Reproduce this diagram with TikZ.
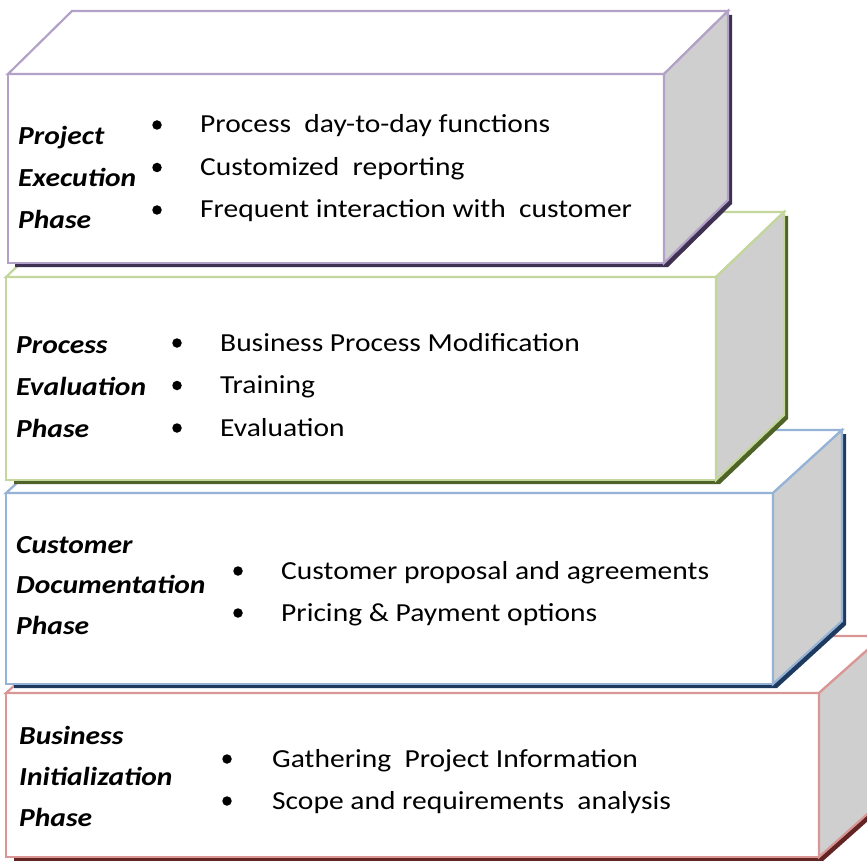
\documentclass[tikz,border=0pt]{standalone}
\usepackage{fontspec}
\setmainfont{Carlito}[FakeStretch=1.135]
\usetikzlibrary{positioning}

\definecolor{purpline}{HTML}{B3A2C7}
\definecolor{purpshade}{HTML}{3F3151}
\definecolor{greenline}{HTML}{C3D69B}
\definecolor{greenshade}{HTML}{4F6228}
\definecolor{blueline}{HTML}{95B3D7}
\definecolor{blueshade}{HTML}{1F3A5F}
\definecolor{redline}{HTML}{D99694}
\definecolor{redshade}{HTML}{632523}
\definecolor{sidegray}{HTML}{CFCFCF}

\tikzset{
  phase/.style={font=\fontsize{26}{26}\selectfont\bfseries\itshape, anchor=base west, inner sep=0pt},
  item/.style={font=\fontsize{26}{26}\selectfont, anchor=base west, inner sep=0pt},
  dot/.style={circle, fill=black, inner sep=0pt, minimum size=9.5pt},
  face/.style={fill=white, line width=2.2pt, line join=miter},
  sideface/.style={fill=sidegray, line width=2.2pt, line join=miter},
}

\begin{document}
\begin{tikzpicture}[x=1pt, y=-1pt]

\useasboundingbox (0,0) rectangle (867,861);
\clip (0,0) rectangle (867,861);

% Business Initialization box
\fill [redshade] (14,697) -- (74,640) -- (887,640) -- (887,804) -- (823,861) -- (14,861) -- cycle;
\draw [face, draw=redline] (6,693) rectangle (819,857);
\draw [face, draw=redline] (6,693) -- (70,636) -- (883,636) -- (819,693) -- cycle;
\draw [sideface, draw=redline] (819,693) -- (883,636) -- (883,800) -- (819,857) -- cycle;

% Customer Documentation box
\fill [blueshade] (14,497) -- (79,434) -- (846,434) -- (846,625) -- (777,688) -- (14,688) -- cycle;
\draw [face, draw=blueline] (6,493) rectangle (773,684);
\draw [face, draw=blueline] (6,493) -- (75,430) -- (842,430) -- (773,493) -- cycle;
\draw [sideface, draw=blueline] (773,493) -- (842,430) -- (842,621) -- (773,684) -- cycle;

% Process Evaluation box
\fill [greenshade] (14,281) -- (78,216) -- (788,216) -- (788,419) -- (720,484) -- (14,484) -- cycle;
\draw [face, draw=greenline] (6,277) rectangle (716,480);
\draw [face, draw=greenline] (6,277) -- (74,212) -- (784,212) -- (716,277) -- cycle;
\draw [sideface, draw=greenline] (716,277) -- (784,212) -- (784,415) -- (716,480) -- cycle;

% Project Execution box
\fill [purpshade] (15,78) -- (76,15) -- (732,15) -- (732,204) -- (668,267) -- (15,267) -- cycle;
\draw [face, draw=purpline] (8,74) rectangle (664,263);
\draw [face, draw=purpline] (8,74) -- (72,11) -- (728,11) -- (664,74) -- cycle;
\draw [sideface, draw=purpline] (664,74) -- (728,11) -- (728,200) -- (664,263) -- cycle;

% Project Execution text
\node [phase] (pe1) at (18,145) {Project};
\node [phase] (pe2) at ([yshift=-41.5]pe1.base west) {Execution};
\node [phase] (pe3) at ([yshift=-41.5]pe2.base west) {Phase};
\node [item] (pe-a) at (200,133) {Process\ \ day-to-day functions};
\node [item] (pe-b) at ([yshift=-42.5]pe-a.base west) {Customized\ \ reporting};
\node [item] (pe-c) at ([yshift=-42.5]pe-b.base west) {Frequent interaction with\ \ customer};
\node [dot] at ([xshift=-43, yshift=8]pe-a.base west) {};
\node [dot] at ([xshift=-43, yshift=8]pe-b.base west) {};
\node [dot] at ([xshift=-43, yshift=8]pe-c.base west) {};

% Process Evaluation text
\node [phase] (ev1) at (16,353) {Process};
\node [phase] (ev2) at ([yshift=-42]ev1.base west) {Evaluation};
\node [phase] (ev3) at ([yshift=-42]ev2.base west) {Phase};
\node [item] (ev-a) at (220,351) {Business Process Modification};
\node [item] (ev-b) at ([yshift=-42.5]ev-a.base west) {Training};
\node [item] (ev-c) at ([yshift=-42.5]ev-b.base west) {Evaluation};
\node [dot] at ([xshift=-43, yshift=8]ev-a.base west) {};
\node [dot] at ([xshift=-43, yshift=8]ev-b.base west) {};
\node [dot] at ([xshift=-43, yshift=8]ev-c.base west) {};

% Customer Documentation text
\node [phase] (cd1) at (16,553) {Customer};
\node [phase] (cd2) at ([yshift=-40.5]cd1.base west) {Documentation};
\node [phase] (cd3) at ([yshift=-40.5]cd2.base west) {Phase};
\node [item] (cd-a) at (281,579) {Customer proposal and agreements};
\node [item] (cd-b) at ([yshift=-42]cd-a.base west) {Pricing \& Payment options};
\node [dot] at ([xshift=-43, yshift=8]cd-a.base west) {};
\node [dot] at ([xshift=-43, yshift=8]cd-b.base west) {};

% Business Initialization text
\node [phase] (bi1) at (19,744) {Business};
\node [phase] (bi2) at ([yshift=-41]bi1.base west) {Initialization};
\node [phase] (bi3) at ([yshift=-41]bi2.base west) {Phase};
\node [item] (bi-a) at (272,767) {Gathering\ \ Project Information};
\node [item] (bi-b) at ([yshift=-42]bi-a.base west) {Scope and requirements\ \ analysis};
\node [dot] at ([xshift=-45, yshift=8]bi-a.base west) {};
\node [dot] at ([xshift=-45, yshift=8]bi-b.base west) {};

\end{tikzpicture}
\end{document}
